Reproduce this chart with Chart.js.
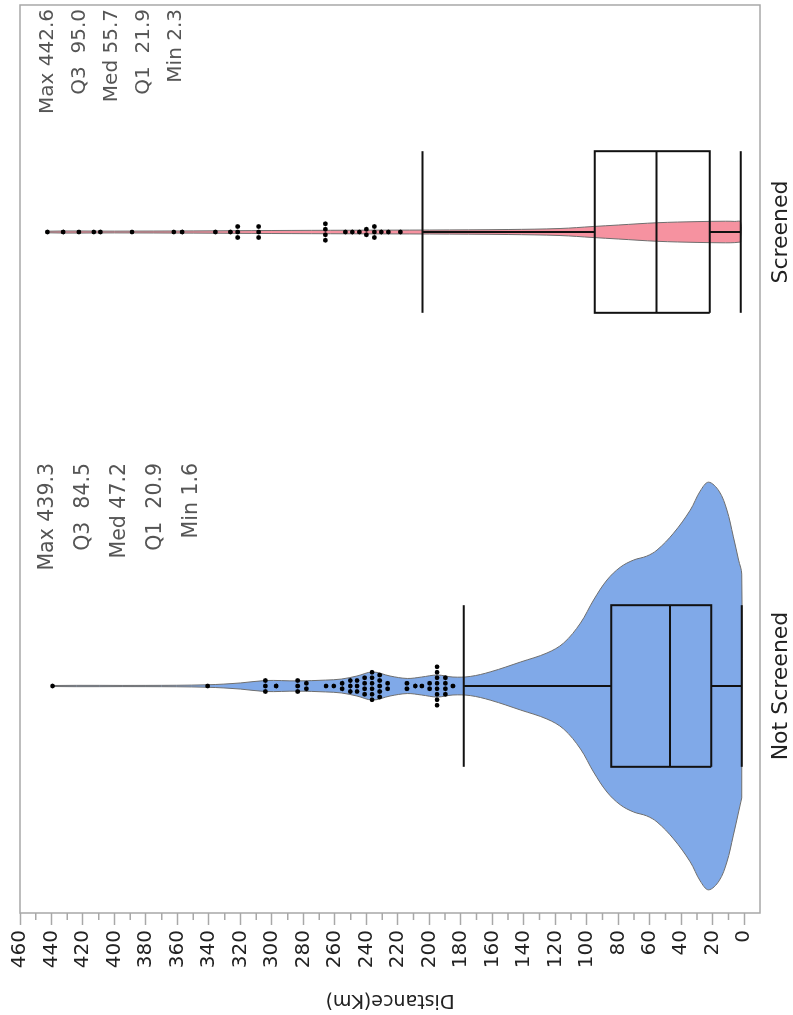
<!DOCTYPE html>
<html><head><meta charset="utf-8">
<script src="https://cdn.jsdelivr.net/npm/chart.js@4.4.1/dist/chart.umd.min.js"></script>
<style>
html,body{margin:0;padding:0;background:#fff;overflow:hidden}
#wrap{position:absolute;left:0;top:0;width:1015px;height:793px;transform-origin:0 0;transform:translate(0,1015px) rotate(-90deg);background:#fff}
</style></head><body>
<div id="wrap"><canvas id="c" width="1015" height="793"></canvas></div>
<script>
// ---------- data ----------
const categories = ['Not Screened', 'Screened'];
const distanceTicks = [0,20,40,60,80,100,120,140,160,180,200,220,240,260,280,300,320,340,360,380,400,420,440,460];
const minorTicks = [10,30,50,70,90,110,130,150,170,190,210,230,250,270,290,310,330,350,370,390,410,430,450];

const minVals = [1.6, 2.3];
const q1Vals = [20.9, 21.9];
const medVals = [47.2, 55.7];
const q3Vals = [84.5, 95.0];
const maxVals = [439.3, 442.6];
const upperWhisker = [178.2, 204.4];

// violin density profiles (relative half-width)
const nsDensityAt = [1.6, 3.6, 7, 11, 16, 22.7, 28, 34.3, 44.9, 55.4, 62, 70.3, 78.7, 87.2, 95.7, 104, 114.7, 125.3, 142, 161, 174, 185, 195, 205, 214, 225, 236, 246, 256, 266, 284, 304, 320, 341, 380, 439.3];
const nsDensity = [0.549, 0.618, 0.735, 0.863, 0.956, 1.0, 0.956, 0.863, 0.75, 0.667, 0.637, 0.618, 0.583, 0.52, 0.422, 0.309, 0.211, 0.162, 0.118, 0.07, 0.047, 0.044, 0.054, 0.044, 0.037, 0.049, 0.069, 0.049, 0.034, 0.029, 0.025, 0.027, 0.015, 0.006, 0.003, 0.0025];
const scDensityAt = [2.3, 6, 12, 30, 55, 80, 96, 117, 150, 200, 250, 300, 350, 400, 442.6];
const scDensity = [0.049, 0.052, 0.053, 0.051, 0.0456, 0.0343, 0.027, 0.0172, 0.0123, 0.0098, 0.0088, 0.0074, 0.0054, 0.0044, 0.0039];

// outlying points
const notScreenedPoints = [439.3, 340.8, 304.1,304.1,304.1, 297.3, 283.6,283.6,283.6, 278.1,278.1, 265.6, 260.7, 255.4,255.4, 250.2,250.2,250.2, 245.9,245.9,245.9, 241.1,241.1,241.1,241.1, 236.4,236.4,236.4,236.4,236.4,236.4, 231.5,231.5,231.5,231.5,231.5, 226.5,226.5, 214.2,214.2, 208.9, 204.7, 199.8,199.8, 195.1,195.1,195.1,195.1,195.1,195.1,195.1,195.1, 189.8,189.8,189.8,189.8, 185.0];
const screenedPoints = [442.6, 432.6, 422.6, 413.1, 408.9, 388.8, 362.3, 357.0, 335.9, 326.3, 321.7,321.7,321.7, 308.4,308.4,308.4, 266.0,266.0,266.0,266.0, 253.3, 248.9, 244.4, 240.0,240.0, 234.9,234.9,234.9, 230.5, 226.0, 218.4];

// ---------- styling constants ----------
const FONT = 'DejaVu Sans';
const VIOLIN_MAX_HALF = 0.449;   // category units
const BOX_HALF = 0.178;
const DOT_STEP = 0.0121;
const violinFill = ['rgb(128,169,232)', 'rgb(246,146,160)'];

function violinShape(c, at, dens) {
  const pts = [];
  for (let i = 0; i < at.length; i++) pts.push({x: c - dens[i] * VIOLIN_MAX_HALF, y: at[i]});
  for (let i = at.length - 1; i >= 0; i--) pts.push({x: c + dens[i] * VIOLIN_MAX_HALF, y: at[i]});
  pts.push({x: pts[0].x, y: pts[0].y});
  return pts;
}
function swarm(c, vals) {
  const groups = {};
  vals.forEach(v => { groups[v] = (groups[v] || 0) + 1; });
  const pts = [];
  Object.keys(groups).forEach(k => {
    const n = groups[k];
    for (let i = 0; i < n; i++) pts.push({x: c + (i - (n - 1) / 2) * DOT_STEP, y: +k});
  });
  return pts;
}
function seg(points) {
  return {type: 'line', data: points, borderColor: '#111', borderWidth: 2, pointRadius: 0, fill: false, tension: 0, order: 1};
}

const datasets = [];
[notScreenedPoints, screenedPoints].forEach((vals, i) => {
  datasets.push({type: 'scatter', data: swarm(i, vals), pointRadius: 2.4, pointBackgroundColor: '#000', pointBorderWidth: 0, order: 0});
});
for (let i = 0; i < 2; i++) {
  const L = i - BOX_HALF, R = i + BOX_HALF;
  datasets.push(seg([{x: L, y: q1Vals[i]}, {x: R, y: q1Vals[i]}, {x: R, y: q3Vals[i]}, {x: L, y: q3Vals[i]}, {x: L, y: q1Vals[i]}]));
  datasets.push(seg([{x: L, y: medVals[i]}, {x: R, y: medVals[i]}]));
  datasets.push(seg([{x: i, y: q3Vals[i]}, {x: i, y: upperWhisker[i]}]));
  datasets.push(seg([{x: i, y: q1Vals[i]}, {x: i, y: minVals[i]}]));
  datasets.push(seg([{x: L, y: upperWhisker[i]}, {x: R, y: upperWhisker[i]}]));
  datasets.push(seg([{x: L, y: minVals[i]}, {x: R, y: minVals[i]}]));
}
datasets.push({type: 'line', data: violinShape(0, nsDensityAt, nsDensity), backgroundColor: violinFill[0], borderColor: '#6e6e6e', borderWidth: 1, pointRadius: 0, fill: 'shape', tension: 0.35, order: 2});
datasets.push({type: 'line', data: violinShape(1, scDensityAt, scDensity), backgroundColor: violinFill[1], borderColor: '#6e6e6e', borderWidth: 1, pointRadius: 0, fill: 'shape', tension: 0.35, order: 2});

const statSpacing = [36, 32];
const statFont = [20.5, 20];

const decor = {
  id: 'decor',
  afterDraw(chart) {
    const ctx = chart.ctx, a = chart.chartArea, ys = chart.scales.y, xs = chart.scales.x;
    ctx.save();
    ctx.strokeStyle = '#a8a8a8';
    ctx.lineWidth = 1.5;
    ctx.beginPath();
    minorTicks.forEach(v => { const p = ys.getPixelForValue(v); ctx.moveTo(a.left - 7, p); ctx.lineTo(a.left, p); });
    ctx.stroke();
    ctx.strokeRect(a.left, a.top, a.right - a.left, a.bottom - a.top);
    ctx.fillStyle = '#555';
    ctx.textAlign = 'right';
    ctx.textBaseline = 'middle';
    for (let i = 0; i < 2; i++) {
      const lines = ['Max ' + maxVals[i].toFixed(1), 'Q3  ' + q3Vals[i].toFixed(1), 'Med ' + medVals[i].toFixed(1), 'Q1  ' + q1Vals[i].toFixed(1), 'Min ' + minVals[i].toFixed(1)];
      const right = xs.getPixelForValue(i + 0.5) - 4;
      ctx.font = statFont[i] + 'px "' + FONT + '"';
      lines.forEach((t, j) => ctx.fillText(t, right, a.top + 28 + j * statSpacing[i]));
    }
    ctx.restore();
  }
};

new Chart(document.getElementById('c'), {
  type: 'line',
  data: {datasets},
  options: {
    responsive: false,
    animation: false,
    events: [],
    layout: {padding: {top: 20, right: 5, left: 0, bottom: 0}},
    plugins: {legend: {display: false}, tooltip: {enabled: false}},
    scales: {
      x: {
        type: 'linear', min: -0.5, max: 1.5,
        afterBuildTicks: s => { s.ticks = categories.map((_, i) => ({value: i})); },
        afterFit: s => { s.height = 33; },
        grid: {display: false, drawTicks: false},
        border: {display: false},
        ticks: {autoSkip: false, maxRotation: 0, padding: 8, color: '#222', font: {family: FONT, size: 22}, callback: v => categories[v]}
      },
      y: {
        type: 'linear', min: -10, max: 460,
        afterBuildTicks: s => { s.ticks = distanceTicks.map(v => ({value: v})); },
        afterFit: s => { s.width = 102; },
        grid: {display: true, drawOnChartArea: false, drawTicks: true, tickLength: 12, tickColor: '#a8a8a8', tickWidth: 1.5},
        border: {display: false},
        ticks: {autoSkip: false, padding: 5, color: '#222', font: {family: FONT, size: 20}},
        title: {display: true, text: 'Distance(Km)', color: '#222', font: {family: FONT, size: 19}, padding: {top: 4, bottom: 0}}
      }
    }
  },
  plugins: [decor]
});
</script>
</body></html>
